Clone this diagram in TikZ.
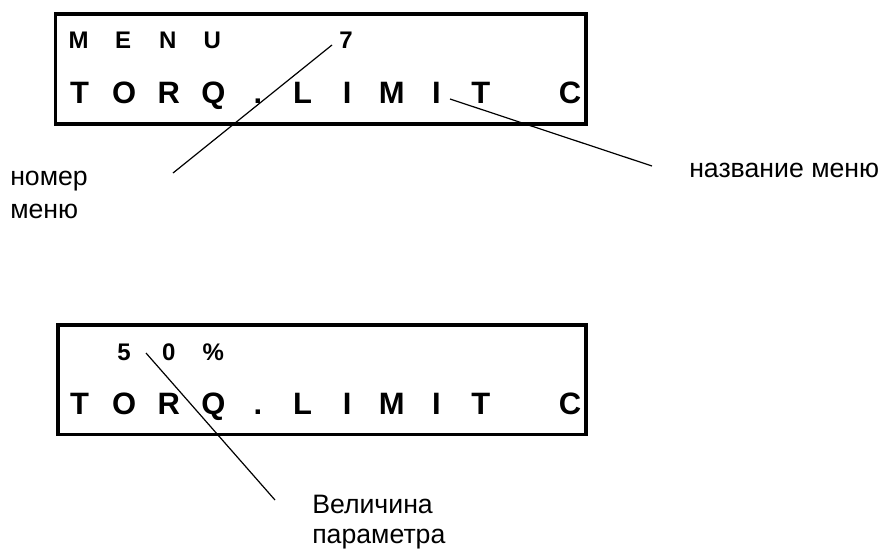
\documentclass[tikz,border=0pt]{standalone}
\usepackage{fontspec}
\setmainfont{Liberation Sans}
\tikzset{
  lcdframe/.style={line width=2.6pt},
  lcdbig/.style={anchor=base, inner sep=0pt,
                 font=\fontsize{23.2}{27}\selectfont\bfseries},
  lcdsmall/.style={anchor=base, inner sep=0pt,
                   font=\fontsize{18}{20}\selectfont\bfseries},
  callout/.style={anchor=base west, inner sep=0pt,
                  font=\fontsize{20}{24}\selectfont},
  leader/.style={line width=0.9pt},
}

\begin{document}
\begin{tikzpicture}[x=0.75pt, y=-0.75pt]   %% pixel grid, y runs down
  \useasboundingbox (0,0) rectangle (880,551);

  %% ── Upper display: menu number and name ──────────────────────────────────
  \draw[lcdframe] (55.5,14) rectangle (586,124);
  \foreach \ch [count=\i from 0] in {M,E,N,U}
    \node[lcdsmall] (menuA-\i) at (78.5+44.6*\i, 48) {\ch};
  \node[lcdsmall] (menuA-no) at (78.5+44.6*6, 48) {7};
  \foreach \ch [count=\i from 0] in {T,O,R,Q,.,L,I,M,I,T,{},C}
    \node[lcdbig] (nameA-\i) at (79.5+44.6*\i, 103) {\ch};

  %% ── Lower display: parameter value ───────────────────────────────────────
  \draw[lcdframe] (58,325) rectangle (586,434.5);
  \foreach \ch [count=\i from 1] in {5,0,\%}
    \node[lcdsmall] (valB-\i) at (79.5+44.6*\i, 360) {\ch};
  \foreach \ch [count=\i from 0] in {T,O,R,Q,.,L,I,M,I,T,{},C}
    \node[lcdbig] (nameB-\i) at (79.5+44.6*\i, 414.5) {\ch};

  %% ── Callout texts ────────────────────────────────────────────────────────
  \node[callout] (numlbl)  at (10,185)  {номер};
  \node[callout] (numlbl2) at (10,218)  {меню};
  \node[callout] (namelbl) at (689,177) {название меню};
  \node[callout] (vallbl)  at (312,513) {Величина};
  \node[callout] (vallbl2) at (312,543) {параметра};

  %% ── Leader lines ─────────────────────────────────────────────────────────
  \coordinate (num-tip)  at (332,45);
  \coordinate (num-end)  at (173,173);
  \coordinate (name-tip) at (450,99);
  \coordinate (name-end) at (652,166);
  \coordinate (val-tip)  at (146,353);
  \coordinate (val-end)  at (275,500);
  \draw[leader] (num-tip)  -- (num-end);
  \draw[leader] (name-tip) -- (name-end);
  \draw[leader] (val-tip)  -- (val-end);

\end{tikzpicture}
\end{document}
